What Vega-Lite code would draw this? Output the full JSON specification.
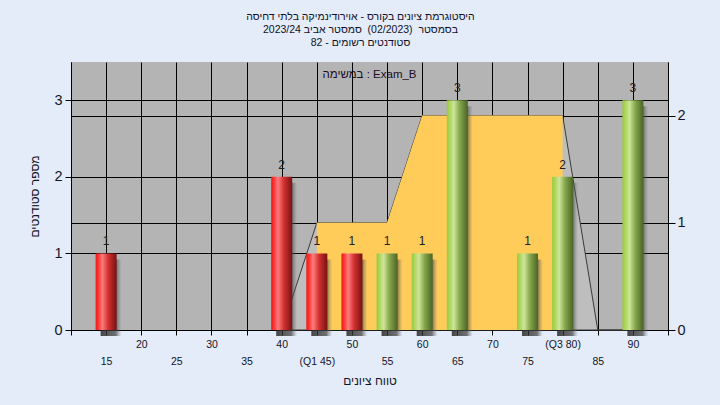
{
  "$schema": "https://vega.github.io/schema/vega-lite/v6.json",
  "width": 597,
  "height": 268,
  "autosize": {"type": "none"},
  "padding": {"left": 71, "top": 62, "right": 52, "bottom": 75},
  "background": "#E3ECF8",
  "config": {
    "font": "Liberation Sans",
    "view": {"fill": "#B4B4B4", "stroke": null},
    "axis": {
      "domainColor": "#000000",
      "tickColor": "#000000",
      "gridColor": "#000000",
      "gridOpacity": 1,
      "gridWidth": 1,
      "labelColor": "#14142a",
      "titleColor": "#14142a",
      "labelFont": "Liberation Sans",
      "titleFont": "Liberation Sans",
      "titleFontWeight": "normal"
    }
  },
  "title": {
    "text": [
      "היסטוגרמת ציונים בקורס - אוירודינמיקה בלתי דחיסה",
      "בסמסטר\u00a0 (02/2023)\u00a0 סמסטר אביב 2023/24",
      "סטודנטים רשומים - 82"
    ],
    "anchor": "middle",
    "frame": "group",
    "dx": -9,
    "font": "Liberation Sans",
    "fontSize": 10.5,
    "fontWeight": "normal",
    "lineHeight": 13,
    "offset": 14,
    "color": "#101028"
  },
  "datasets": {
    "grades": [
      {"score": 15, "count": 1, "band": "fail"},
      {"score": 40, "count": 2, "band": "fail"},
      {"score": 45, "count": 1, "band": "fail"},
      {"score": 50, "count": 1, "band": "fail"},
      {"score": 55, "count": 1, "band": "pass"},
      {"score": 60, "count": 1, "band": "pass"},
      {"score": 65, "count": 3, "band": "pass"},
      {"score": 75, "count": 1, "band": "pass"},
      {"score": 80, "count": 2, "band": "pass"},
      {"score": 90, "count": 3, "band": "pass"}
    ],
    "spread": [
      {"score": 40, "level": 0},
      {"score": 45, "level": 1},
      {"score": 55, "level": 1},
      {"score": 60, "level": 2},
      {"score": 80, "level": 2},
      {"score": 85, "level": 0},
      {"score": 90, "level": 0}
    ],
    "quartiles": [
      {"score": 45, "level": 1},
      {"score": 55, "level": 1},
      {"score": 60, "level": 2},
      {"score": 80, "level": 2}
    ]
  },
  "layer": [
    {
      "layer": [
        {
          "data": {"name": "spread"},
          "mark": {"type": "area", "fill": "#BEBEBE", "fillOpacity": 1, "stroke": "#3a3a3a", "strokeWidth": 1, "interpolate": "linear"},
          "encoding": {
            "x": {
              "field": "score",
              "type": "quantitative",
              "scale": {"domain": [10, 95], "nice": false, "zero": false, "padding": 0},
              "axis": {
                "values": [10, 15, 20, 25, 30, 35, 40, 45, 50, 55, 60, 65, 70, 75, 80, 85, 90, 95],
                "labelExpr": "datum.value == 45 ? '(Q1 45)' : datum.value == 80 ? '(Q3 80)' : (datum.value == 10 || datum.value == 95) ? '' : datum.label",
                "labelPadding": {"condition": {"test": "datum.value % 10 == 0", "value": 4}, "value": 21},
                "labelFontSize": 10.5,
                "labelFlush": false,
                "labelOverlap": false,
                "labelBaseline": "top",
                "tickSize": 5,
                "grid": true,
                "title": "טווח ציונים",
                "titleFontSize": 12,
                "titlePadding": 9
              }
            },
            "y": {
              "field": "level",
              "type": "quantitative",
              "scale": {"domain": [0, 2.5], "nice": false},
              "axis": {
                "orient": "right",
                "values": [0, 1, 2],
                "format": "d",
                "title": null,
                "grid": true,
                "tickSize": 7,
                "labelPadding": 2,
                "labelFontSize": 14.5
              }
            }
          }
        },
        {
          "data": {"name": "quartiles"},
          "mark": {"type": "area", "color": "#FFCC5A", "opacity": 1, "interpolate": "linear"},
          "encoding": {
            "x": {
              "field": "score",
              "type": "quantitative",
              "scale": {"domain": [10, 95], "nice": false, "zero": false, "padding": 0},
              "axis": {
                "values": [10, 15, 20, 25, 30, 35, 40, 45, 50, 55, 60, 65, 70, 75, 80, 85, 90, 95],
                "labelExpr": "datum.value == 45 ? '(Q1 45)' : datum.value == 80 ? '(Q3 80)' : (datum.value == 10 || datum.value == 95) ? '' : datum.label",
                "labelPadding": {"condition": {"test": "datum.value % 10 == 0", "value": 4}, "value": 21},
                "labelFontSize": 10.5,
                "labelFlush": false,
                "labelOverlap": false,
                "labelBaseline": "top",
                "tickSize": 5,
                "grid": true,
                "title": "טווח ציונים",
                "titleFontSize": 12,
                "titlePadding": 9
              }
            },
            "y": {"field": "level", "type": "quantitative"}
          }
        }
      ]
    },
    {
      "layer": [
        {
          "data": {"name": "grades"},
          "mark": {
            "type": "bar",
            "size": 21,
            "xOffset": 5,
            "yOffset": 6,
            "y2Offset": 3,
            "color": {
              "gradient": "linear",
              "x1": 0, "x2": 1, "y1": 0, "y2": 0,
              "stops": [
                {"offset": 0, "color": "rgba(40,40,40,0.85)"},
                {"offset": 0.72, "color": "rgba(60,60,60,0.7)"},
                {"offset": 1, "color": "rgba(120,120,120,0)"}
              ]
            }
          },
          "encoding": {
            "x": {
              "field": "score",
              "type": "quantitative",
              "scale": {"domain": [10, 95], "nice": false, "zero": false, "padding": 0},
              "axis": {
                "values": [10, 15, 20, 25, 30, 35, 40, 45, 50, 55, 60, 65, 70, 75, 80, 85, 90, 95],
                "labelExpr": "datum.value == 45 ? '(Q1 45)' : datum.value == 80 ? '(Q3 80)' : (datum.value == 10 || datum.value == 95) ? '' : datum.label",
                "labelPadding": {"condition": {"test": "datum.value % 10 == 0", "value": 4}, "value": 21},
                "labelFontSize": 10.5,
                "labelFlush": false,
                "labelOverlap": false,
                "labelBaseline": "top",
                "tickSize": 5,
                "grid": true,
                "title": "טווח ציונים",
                "titleFontSize": 12,
                "titlePadding": 9
              }
            },
            "y": {
              "field": "count",
              "type": "quantitative",
              "scale": {"domain": [0, 3.5], "nice": false},
              "axis": {
                "orient": "left",
                "values": [0, 1, 2, 3],
                "format": "d",
                "grid": true,
                "tickSize": 6,
                "labelPadding": 3,
                "labelFontSize": 14.5,
                "title": "מספר סטודנטים",
                "titleFontSize": 12,
                "titlePadding": 12
              }
            }
          }
        },
        {
          "data": {"name": "grades"},
          "transform": [{"filter": "datum.band == 'fail'"}],
          "mark": {
            "type": "bar",
            "size": 21,
            "color": {
              "gradient": "linear",
              "x1": 0, "x2": 1, "y1": 0, "y2": 0,
              "stops": [
                {"offset": 0, "color": "#E81818"},
                {"offset": 0.1, "color": "#FF2A2A"},
                {"offset": 0.32, "color": "#FF7C7C"},
                {"offset": 0.6, "color": "#D43030"},
                {"offset": 1, "color": "#761212"}
              ]
            }
          },
          "encoding": {
            "x": {
              "field": "score",
              "type": "quantitative",
              "scale": {"domain": [10, 95], "nice": false, "zero": false, "padding": 0},
              "axis": {
                "values": [10, 15, 20, 25, 30, 35, 40, 45, 50, 55, 60, 65, 70, 75, 80, 85, 90, 95],
                "labelExpr": "datum.value == 45 ? '(Q1 45)' : datum.value == 80 ? '(Q3 80)' : (datum.value == 10 || datum.value == 95) ? '' : datum.label",
                "labelPadding": {"condition": {"test": "datum.value % 10 == 0", "value": 4}, "value": 21},
                "labelFontSize": 10.5,
                "labelFlush": false,
                "labelOverlap": false,
                "labelBaseline": "top",
                "tickSize": 5,
                "grid": true,
                "title": "טווח ציונים",
                "titleFontSize": 12,
                "titlePadding": 9
              }
            },
            "y": {"field": "count", "type": "quantitative"}
          }
        },
        {
          "data": {"name": "grades"},
          "transform": [{"filter": "datum.band == 'pass'"}],
          "mark": {
            "type": "bar",
            "size": 21,
            "color": {
              "gradient": "linear",
              "x1": 0, "x2": 1, "y1": 0, "y2": 0,
              "stops": [
                {"offset": 0, "color": "#98C840"},
                {"offset": 0.12, "color": "#AAD455"},
                {"offset": 0.34, "color": "#CDE59C"},
                {"offset": 0.6, "color": "#88A94C"},
                {"offset": 1, "color": "#4A6426"}
              ]
            }
          },
          "encoding": {
            "x": {
              "field": "score",
              "type": "quantitative",
              "scale": {"domain": [10, 95], "nice": false, "zero": false, "padding": 0},
              "axis": {
                "values": [10, 15, 20, 25, 30, 35, 40, 45, 50, 55, 60, 65, 70, 75, 80, 85, 90, 95],
                "labelExpr": "datum.value == 45 ? '(Q1 45)' : datum.value == 80 ? '(Q3 80)' : (datum.value == 10 || datum.value == 95) ? '' : datum.label",
                "labelPadding": {"condition": {"test": "datum.value % 10 == 0", "value": 4}, "value": 21},
                "labelFontSize": 10.5,
                "labelFlush": false,
                "labelOverlap": false,
                "labelBaseline": "top",
                "tickSize": 5,
                "grid": true,
                "title": "טווח ציונים",
                "titleFontSize": 12,
                "titlePadding": 9
              }
            },
            "y": {"field": "count", "type": "quantitative"}
          }
        },
        {
          "data": {"name": "grades"},
          "mark": {"type": "text", "baseline": "alphabetic", "dy": -8, "fontSize": 12, "color": "#202020"},
          "encoding": {
            "x": {
              "field": "score",
              "type": "quantitative",
              "scale": {"domain": [10, 95], "nice": false, "zero": false, "padding": 0},
              "axis": {
                "values": [10, 15, 20, 25, 30, 35, 40, 45, 50, 55, 60, 65, 70, 75, 80, 85, 90, 95],
                "labelExpr": "datum.value == 45 ? '(Q1 45)' : datum.value == 80 ? '(Q3 80)' : (datum.value == 10 || datum.value == 95) ? '' : datum.label",
                "labelPadding": {"condition": {"test": "datum.value % 10 == 0", "value": 4}, "value": 21},
                "labelFontSize": 10.5,
                "labelFlush": false,
                "labelOverlap": false,
                "labelBaseline": "top",
                "tickSize": 5,
                "grid": true,
                "title": "טווח ציונים",
                "titleFontSize": 12,
                "titlePadding": 9
              }
            },
            "y": {"field": "count", "type": "quantitative"},
            "text": {"field": "count", "type": "quantitative"}
          }
        },
        {
          "data": {"values": [{"label": "במשימה : Exam_B"}]},
          "mark": {"type": "text", "baseline": "middle", "align": "center", "fontSize": 11.5, "color": "#1c0c24"},
          "encoding": {
            "x": {
              "datum": 52.5,
              "type": "quantitative",
              "scale": {"domain": [10, 95], "nice": false, "zero": false, "padding": 0},
              "axis": {
                "values": [10, 15, 20, 25, 30, 35, 40, 45, 50, 55, 60, 65, 70, 75, 80, 85, 90, 95],
                "labelExpr": "datum.value == 45 ? '(Q1 45)' : datum.value == 80 ? '(Q3 80)' : (datum.value == 10 || datum.value == 95) ? '' : datum.label",
                "labelPadding": {"condition": {"test": "datum.value % 10 == 0", "value": 4}, "value": 21},
                "labelFontSize": 10.5,
                "labelFlush": false,
                "labelOverlap": false,
                "labelBaseline": "top",
                "tickSize": 5,
                "grid": true,
                "title": "טווח ציונים",
                "titleFontSize": 12,
                "titlePadding": 9
              }
            },
            "y": {"datum": 3.33, "type": "quantitative"},
            "text": {"field": "label", "type": "nominal"}
          }
        }
      ]
    }
  ],
  "resolve": {"scale": {"y": "independent"}}
}
